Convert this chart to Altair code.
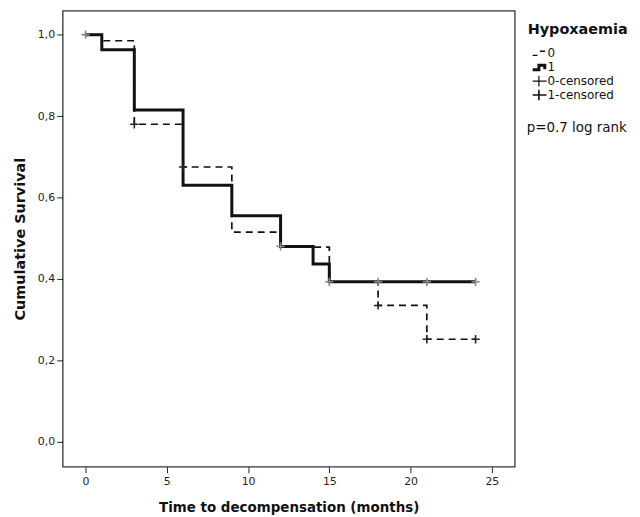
import altair as alt
import pandas as pd

# ---- data ----
# Kaplan-Meier curve, Hypoxaemia = 0 (dashed)
time_0 = [0, 1, 3, 6, 9, 12, 15, 18, 21, 24]
surv_0 = [1.0, 0.985, 0.78, 0.675, 0.515, 0.478, 0.393, 0.335, 0.252, 0.252]
# Kaplan-Meier curve, Hypoxaemia = 1 (solid)
time_1 = [0, 1, 3, 6, 9, 12, 14, 15, 24]
surv_1 = [1.0, 0.963, 0.815, 0.63, 0.555, 0.48, 0.437, 0.393, 0.393]
# censored observations
cens_time_0 = [3, 6, 18, 21, 24]
cens_surv_0 = [0.78, 0.675, 0.335, 0.252, 0.252]
cens_time_1 = [0, 12, 15, 18, 21, 24]
cens_surv_1 = [1.0, 0.48, 0.393, 0.393, 0.393, 0.393]

x_ticks = [0, 5, 10, 15, 20, 25]
y_ticks = [0.0, 0.2, 0.4, 0.6, 0.8, 1.0]
x_title = "Time to decompensation (months)"
y_title = "Cumulative Survival"
legend_title = "Hypoxaemia"
legend_labels = ["0", "1", "0-censored", "1-censored"]
p_text = "p=0.7 log rank"

FONT = "DejaVu Sans"
W, H = 455, 459

df0 = pd.DataFrame({"t": time_0, "s": surv_0})
df1 = pd.DataFrame({"t": time_1, "s": surv_1})
dc0 = pd.DataFrame({"t": cens_time_0, "s": cens_surv_0})
dc1 = pd.DataFrame({"t": cens_time_1, "s": cens_surv_1})

x_scale = alt.Scale(domain=[-1.41, 26.41], nice=False, zero=False)
y_scale = alt.Scale(domain=[-0.061, 1.059], nice=False, zero=False)

x_enc = alt.X(
    "t:Q", scale=x_scale,
    axis=alt.Axis(values=x_ticks, title=x_title, grid=False, domain=False,
                  tickSize=6, tickColor="#222", labelPadding=3, labelFontSize=11,
                  labelColor="#222", titleFontSize=13.5, titleFontWeight="bold",
                  titleColor="#111", titlePadding=14, labelFlush=False),
)
y_enc = alt.Y(
    "s:Q", scale=y_scale,
    axis=alt.Axis(values=y_ticks, title=y_title, grid=False, domain=False,
                  tickSize=6, tickColor="#222", labelPadding=2, labelFontSize=11,
                  labelColor="#222", titleFontSize=14.5, titleFontWeight="bold",
                  titleColor="#111", titlePadding=10, labelFlush=False,
                  labelExpr="replace(format(datum.value, '.1f'), '.', ',')"),
)

PLUS = "M-1,0L1,0M0,-1L0,1"

line0 = alt.Chart(df0).mark_line(
    interpolate="step-after", color="#111", strokeWidth=1.7, strokeDash=[7, 5]
).encode(x=x_enc, y=y_enc)
line1 = alt.Chart(df1).mark_line(
    interpolate="step-after", color="#111", strokeWidth=3
).encode(x=x_enc, y=y_enc)
c0 = alt.Chart(dc0).mark_point(
    shape=PLUS, size=70, filled=False, strokeWidth=1.6, color="#222", opacity=1
).encode(x=x_enc, y=y_enc)
c1 = alt.Chart(dc1).mark_point(
    shape=PLUS, size=70, filled=False, strokeWidth=1.6, color="#888", opacity=1
).encode(x=x_enc, y=y_enc)

main = alt.layer(line0, line1, c0, c1).properties(
    width=W, height=H,
    view=alt.ViewBackground(stroke="#333", strokeWidth=1.3),
)

# ---- legend panel ----
LW = 105
leg_df = pd.DataFrame({"label": legend_labels, "row": list(range(len(legend_labels)))})
row_y = alt.Y("row:Q", scale=alt.Scale(domain=[0, 3], range=[43, 85]), axis=None)

glyph_paths = {
    "0": "M-1,0.3L-0.3,0.3M0.05,-0.3L0.8,-0.3",
    "1": "M-1,0.35L-0.1,0.35L-0.1,-0.3L0.75,-0.3L0.75,0.3",
    "0-censored": "M-1,0L1,0M-0.1,-0.75L-0.1,0.75",
    "1-censored": "M-1,0L1,0M-0.1,-0.75L-0.1,0.75",
}
glyph_width = {"0": 1.4, "1": 3.0, "0-censored": 1.2, "1-censored": 1.6}

glyphs = []
for lab in legend_labels:
    glyphs.append(
        alt.Chart(leg_df).transform_filter(alt.datum.label == lab).mark_point(
            shape=glyph_paths[lab], size=196, filled=False,
            strokeWidth=glyph_width[lab], color="#111", opacity=1
        ).encode(x=alt.value(13), y=row_y)
    )

leg_text = alt.Chart(leg_df).mark_text(
    align="left", baseline="middle", font=FONT, fontSize=12, color="#111"
).encode(x=alt.value(21), y=row_y, text="label:N")

leg_title = alt.Chart(pd.DataFrame({"txt": [legend_title]})).mark_text(
    align="left", baseline="middle", font=FONT, fontSize=14.5, fontWeight="bold",
    color="#111"
).encode(x=alt.value(1), y=alt.value(20), text="txt:N")

p_label = alt.Chart(pd.DataFrame({"txt": [p_text]})).mark_text(
    align="left", baseline="middle", font=FONT, fontSize=13.5, color="#111"
).encode(x=alt.value(0), y=alt.value(118), text="txt:N")

legend = alt.layer(leg_title, *glyphs, leg_text, p_label).properties(
    width=LW, height=H,
    view=alt.ViewBackground(stroke="transparent"),
)

chart = alt.hconcat(main, legend, spacing=10).resolve_scale(
    x="independent", y="independent"
).properties(
    padding={"left": 3, "top": 0, "right": 0, "bottom": 0}
).configure_axis(
    labelFont=FONT, titleFont=FONT
).configure_text(font=FONT)

chart.save("out.html", embed_options={"renderer": "svg", "actions": False})
